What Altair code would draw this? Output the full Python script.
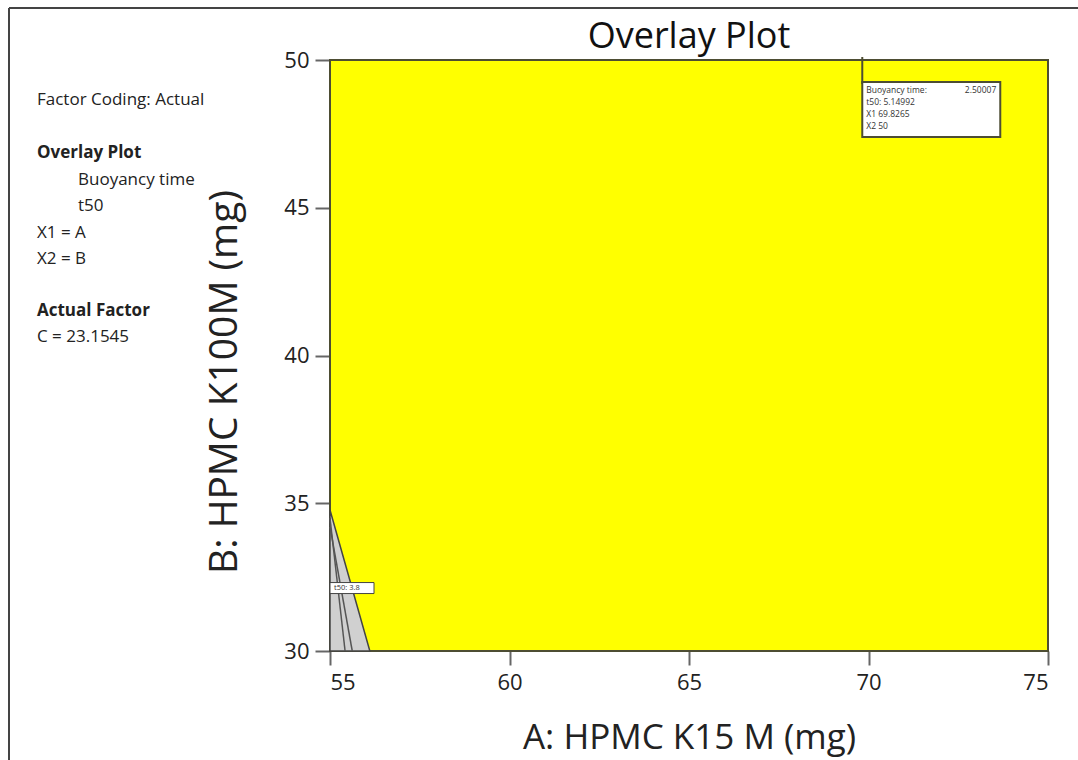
import altair as alt
import pandas as pd

# ---- data ----
x_ticks = [55, 60, 65, 70, 75]
y_ticks = [30, 35, 40, 45, 50]

# grey (not meeting criteria) region boundary at the lower left corner
boundary_y = [30, 34.77]
boundary_x = [56.11, 55]
# inner contour lines inside the grey region
contour1_x = [55.42, 55]
contour1_y = [30, 34.5]
contour2_x = [55.62, 55]
contour2_y = [30, 34.2]
contour_label = "t50: 3.8"
contour_label_pos = (55.0, 32.13)

# flag
flag_x = 69.8265
flag_y = 50
flag_lines = ["Buoyancy time:", "t50:  5.14992", "X1  69.8265", "X2  50"]
flag_value = "2.50007"

side_text = [
    ("Factor Coding: Actual", "normal", 0),
    ("Overlay Plot", "bold", 0),
    ("Buoyancy time", "normal", 41),
    ("t50", "normal", 41),
    ("X1 = A", "normal", 0),
    ("X2 = B", "normal", 0),
    ("Actual Factor", "bold", 0),
    ("C = 23.1545", "normal", 0),
]
side_y = [100, 153, 180, 206, 233, 259, 311, 337]

FONT = "Open Sans"
W, H = 718, 591
PL, PT = 330, 60

xs = alt.Scale(domain=[55, 75], nice=False, zero=False)
ys = alt.Scale(domain=[30, 50], nice=False, zero=False)

bg = pd.DataFrame({"x": [55], "x2": [75], "y": [30], "y2": [50]})
base = alt.Chart(bg).mark_rect(color="#ffff00", stroke="#4d4d33", strokeWidth=2).encode(
    x=alt.X("x:Q", scale=xs,
            axis=alt.Axis(values=x_ticks, title="A: HPMC K15 M (mg)", grid=False,
                          domain=False, tickSize=14, tickColor="#666", tickWidth=2,
                          labelFontSize=22, labelColor="#222", labelFont=FONT,
                          labelPadding=7, titleFont=FONT, titleFontSize=35,
                          titleFontWeight="normal", titleColor="#222",
                          titleY=86, titleBaseline="middle")),
    x2="x2:Q",
    y=alt.Y("y:Q", scale=ys,
            axis=alt.Axis(values=y_ticks, title="B: HPMC K100M (mg)", grid=False,
                          domain=False, tickSize=15, tickColor="#666", tickWidth=2,
                          labelFontSize=22, labelColor="#222", labelFont=FONT,
                          labelPadding=6, titleFont=FONT, titleFontSize=39,
                          titleFontWeight="normal", titleColor="#222",
                          titleX=-106, titleY=H / 2 + 26, titleBaseline="middle",
                          titleAngle=-90, titleAlign="center")),
    y2="y2:Q",
)

grey_df = pd.DataFrame({"y": boundary_y, "x": boundary_x, "x0": [55, 55]})
grey = alt.Chart(grey_df).mark_area(orient="horizontal", color="#d0d0d0",
                                    stroke="#444", strokeWidth=1.5).encode(
    y=alt.Y("y:Q", scale=ys), x=alt.X("x:Q", scale=xs), x2="x0:Q")

c_df = pd.DataFrame({
    "x": contour1_x + contour2_x,
    "y": contour1_y + contour2_y,
    "k": ["a", "a", "b", "b"],
})
contours = alt.Chart(c_df).mark_line(color="#555", strokeWidth=1.5).encode(
    x=alt.X("x:Q", scale=xs), y=alt.Y("y:Q", scale=ys), detail="k:N")

lbl_df = pd.DataFrame({"x": [contour_label_pos[0]], "y": [contour_label_pos[1]], "t": [contour_label]})
lbl_box = alt.Chart(lbl_df).mark_rect(fill="white", stroke="#444", strokeWidth=1,
                                      width=44, height=11, xOffset=22).encode(
    x=alt.X("x:Q", scale=xs), y=alt.Y("y:Q", scale=ys))
lbl_txt = alt.Chart(lbl_df).mark_text(fontSize=7.5, font=FONT, align="left", dx=4,
                                      color="#333").encode(
    x=alt.X("x:Q", scale=xs), y=alt.Y("y:Q", scale=ys), text="t:N")

# flag
f_df = pd.DataFrame({"x": [flag_x], "y": [flag_y]})
flag_rule = alt.Chart(f_df).mark_rule(color="#4d4d33", strokeWidth=2).encode(
    x=alt.X("x:Q", scale=xs), y=alt.value(-3), y2=alt.value(24))
flag_box = alt.Chart(f_df).mark_rect(fill="white", stroke="#4d4d33", strokeWidth=2,
                                     width=138, height=55, xOffset=69, yOffset=22 + 27.5).encode(
    x=alt.X("x:Q", scale=xs), y=alt.Y("y:Q", scale=ys))
ft_df = pd.DataFrame({"x": [flag_x] * 4, "y": [flag_y] * 4, "t": flag_lines,
                      "dy": [30, 42, 54, 66]})
flag_txt = alt.layer(*[
    alt.Chart(ft_df.iloc[[i]]).mark_text(fontSize=8.5, font=FONT, align="left", dx=4,
                                         dy=ft_df["dy"][i], color="#333").encode(
        x=alt.X("x:Q", scale=xs), y=alt.Y("y:Q", scale=ys), text="t:N")
    for i in range(4)
])
fv_df = pd.DataFrame({"x": [flag_x], "y": [flag_y], "t": [flag_value]})
flag_val = alt.Chart(fv_df).mark_text(fontSize=8.5, font=FONT, align="right", dx=134,
                                      dy=30, color="#333").encode(
    x=alt.X("x:Q", scale=xs), y=alt.Y("y:Q", scale=ys), text="t:N")

# title
title = alt.Chart(pd.DataFrame({"t": ["Overlay Plot"]})).mark_text(
    fontSize=36, font=FONT, color="#111", baseline="middle").encode(
    x=alt.value(W / 2), y=alt.value(37 - PT), text="t:N")

# side panel text
side_layers = []
for (t, wgt, ind), yy in zip(side_text, side_y):
    side_layers.append(
        alt.Chart(pd.DataFrame({"t": [t]})).mark_text(
            fontSize=17, font=FONT, fontWeight=wgt, align="left", baseline="middle",
            color="#222").encode(x=alt.value(37 + ind - PL), y=alt.value(yy - PT), text="t:N"))

# outer frame
frame_left = alt.Chart(pd.DataFrame({"a": [0]})).mark_rule(color="#444", strokeWidth=2).encode(
    x=alt.value(9 - PL), y=alt.value(8 - PT), y2=alt.value(760 - PT))
frame_top = alt.Chart(pd.DataFrame({"a": [0]})).mark_rule(color="#444", strokeWidth=2).encode(
    x=alt.value(9 - PL), x2=alt.value(1078 - PL), y=alt.value(8 - PT))

chart = alt.layer(
    base, grey, contours, lbl_box, lbl_txt, flag_rule, flag_box, flag_txt, flag_val,
    title, *side_layers, frame_left, frame_top
).properties(
    width=W, height=H,
    autosize=alt.AutoSizeParams(type="none"),
    padding={"left": PL, "top": PT, "right": 1078 - PL - W, "bottom": 760 - PT - H},
).configure_view(stroke=None).configure(background="white")

chart.save("out.html", embed_options={"renderer": "svg", "actions": False})
